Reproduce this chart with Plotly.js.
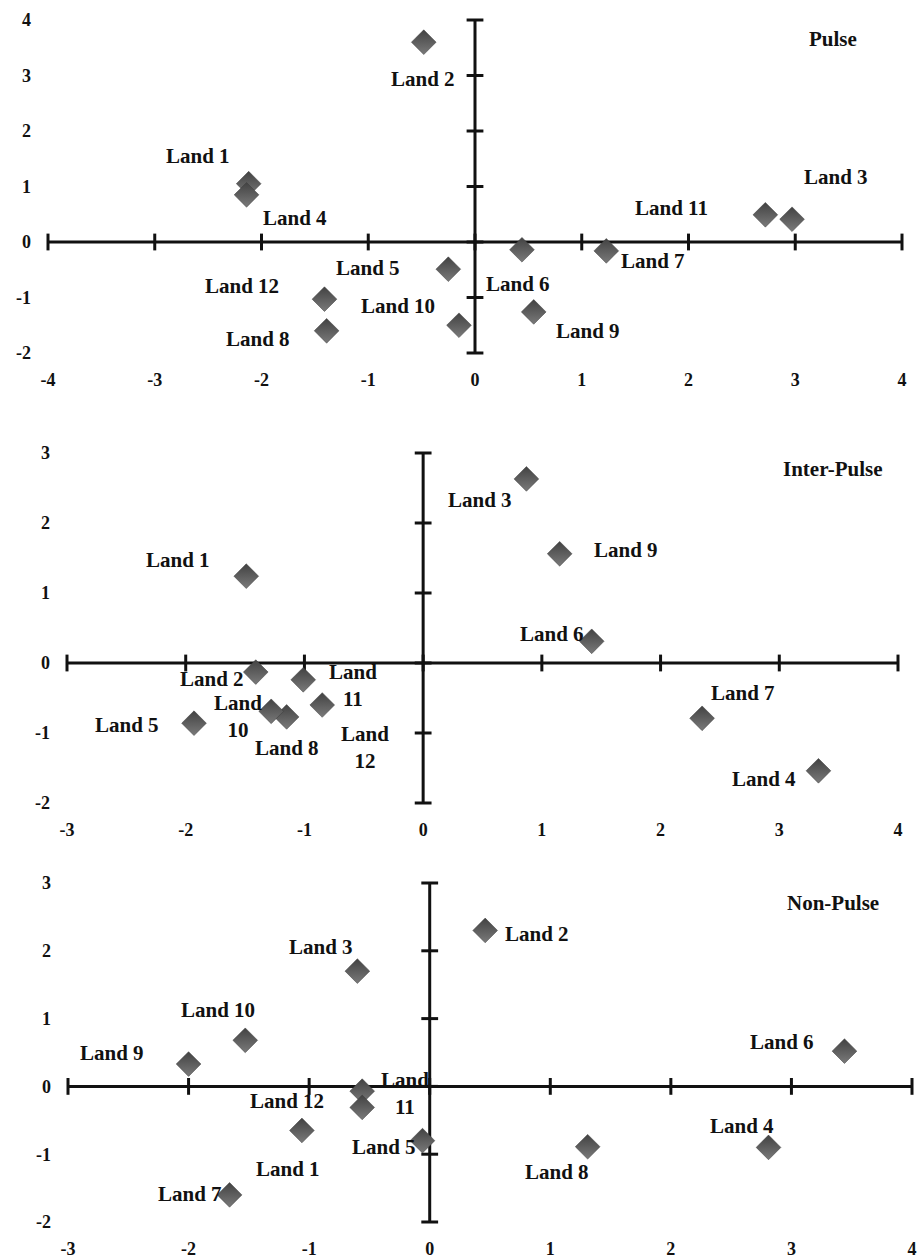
<!DOCTYPE html>
<html>
<head>
<meta charset="utf-8">
<script src="https://cdn.plot.ly/plotly-3.0.1.min.js"></script>
<style>html,body{margin:0;padding:0;background:#fff;}#chart{width:921px;height:1258px;}</style>
</head>
<body>
<div id="chart"></div>
<script>
// ---------- DATA ----------
const lands = ['Land 1','Land 2','Land 3','Land 4','Land 5','Land 6','Land 7','Land 8','Land 9','Land 10','Land 11','Land 12'];

const pulseX = [-2.12, -0.48, 2.97, -2.14, -0.25, 0.44, 1.23, -1.39, 0.55, -0.15, 2.72, -1.41];
const pulseY = [ 1.05,  3.60, 0.41,  0.85, -0.49, -0.14, -0.16, -1.60, -1.26, -1.50, 0.49, -1.03];

const interX = [-1.49, -1.41, 0.87, 3.33, -1.93, 1.42, 2.35, -1.15, 1.15, -1.28, -1.01, -0.85];
const interY = [ 1.24, -0.13, 2.63, -1.54, -0.86, 0.31, -0.79, -0.77, 1.56, -0.69, -0.24, -0.60];

const nonX = [-1.06, 0.46, -0.60, 2.81, -0.06, 3.44, -1.66, 1.31, -2.00, -1.53, -0.56, -0.56];
const nonY = [-0.65, 2.30,  1.70, -0.90, -0.80, 0.52, -1.60, -0.89, 0.33, 0.68, -0.07, -0.31];

const pulseXTicks = [-4,-3,-2,-1,0,1,2,3,4];
const pulseYTicks = [-2,-1,0,1,2,3,4];
const interXTicks = [-3,-2,-1,0,1,2,3,4];
const interYTicks = [-2,-1,0,1,2,3];
const nonXTicks = [-3,-2,-1,0,1,2,3,4];
const nonYTicks = [-2,-1,0,1,2,3];

const panelTitles = ['Pulse','Inter-Pulse','Non-Pulse'];

// ---------- STYLE / PLACEMENT ----------
const FONT = 'Liberation Serif, Times New Roman, serif';
const INK = '#111111';
// label offsets in pixels [dx, dyUp] per land, per panel
const labelOffsets = [
  [[-51,28],[-1,-37],[44,42],[48,-23],[-80,1],[-4,-34],[47,-10],[-69,-8],[54,-19],[-61,19],[-94,7],[-82,13]],
  [[-68,16],[-44,-7],[-46,-21],[-54,-8],[-67,-2],[-40,7],[41,25],[0,-31],[66,4],[-33,-5],[50,-6],[43,-43]],
  [[-14,-39],[52,-4],[-36,24],[-27,21],[-38,-6],[-62,9],[-40,1],[-31,-25],[-77,11],[-27,30],[43,-2],[-75,6]]
];
const wrapped = [[], [9,10,11], [10]];
const panels = [
  {x: pulseX, y: pulseY, xt: pulseXTicks, yt: pulseYTicks, xd:[48/921, 902/921], yd:[1-353/1258, 1-20/1258], title:[833, 39]},
  {x: interX, y: interY, xt: interXTicks, yt: interYTicks, xd:[67/921, 898/921], yd:[1-803/1258, 1-453/1258], title:[833, 469]},
  {x: nonX, y: nonY, xt: nonXTicks, yt: nonYTicks, xd:[68/921, 912/921], yd:[1-1222/1258, 1-883/1258], title:[833, 903]}
];

const traces = [];
const annotations = [];
const layout = {
  width: 921, height: 1258,
  margin: {l:0, r:0, t:0, b:0},
  paper_bgcolor: '#ffffff', plot_bgcolor: 'rgba(0,0,0,0)',
  showlegend: false,
  font: {family: FONT, color: INK, weight: 'bold'},
  annotations: annotations
};

panels.forEach((p, i) => {
  const sfx = i === 0 ? '' : String(i + 1);
  const xa = 'x' + sfx, ya = 'y' + sfx;
  // axis line with crossing ticks (x axis at y=0)
  traces.push({
    type: 'scatter', mode: 'lines+markers', xaxis: xa, yaxis: ya,
    x: p.xt, y: p.xt.map(() => 0), cliponaxis: false, hoverinfo: 'skip',
    line: {color: INK, width: 3},
    marker: {symbol: 'line-ns', size: 12, line: {width: 3, color: INK}}
  });
  traces.push({
    type: 'scatter', mode: 'lines+markers', xaxis: xa, yaxis: ya,
    x: p.yt.map(() => 0), y: p.yt, cliponaxis: false, hoverinfo: 'skip',
    line: {color: INK, width: 3},
    marker: {symbol: 'line-ew', size: 12, line: {width: 3, color: INK}}
  });
  traces.push({
    type: 'scatter', mode: 'markers', xaxis: xa, yaxis: ya,
    x: p.x, y: p.y, text: lands, cliponaxis: false,
    marker: {symbol: 'diamond', size: 19, color: '#424242',
             gradient: {type: 'vertical', color: '#7a7a7a'},
             line: {width: 0.5, color: '#3a3a3a'}}
  });
  const axBase = {showgrid: false, zeroline: false, showline: false, ticks: '',
                  tickfont: {family: FONT, size: 18, color: INK, weight: 'bold'}, automargin: false, fixedrange: true};
  layout['xaxis' + sfx] = Object.assign({}, axBase, {
    anchor: ya, domain: p.xd, range: [p.xt[0], p.xt[p.xt.length - 1]],
    tickmode: 'array', tickvals: p.xt, ticktext: p.xt.map(String), ticklabelstandoff: 14
  });
  layout['yaxis' + sfx] = Object.assign({}, axBase, {
    anchor: xa, domain: p.yd, range: [p.yt[0], p.yt[p.yt.length - 1]],
    tickmode: 'array', tickvals: p.yt, ticktext: p.yt.map(String), ticklabelstandoff: 16
  });
  lands.forEach((name, k) => {
    const txt = wrapped[i].includes(k) ? name.replace(' ', '<br>') : name;
    annotations.push({
      xref: xa, yref: ya, x: p.x[k], y: p.y[k], text: txt, showarrow: false,
      xshift: labelOffsets[i][k][0], yshift: labelOffsets[i][k][1],
      font: {family: FONT, size: 21, color: INK, weight: 'bold'}
    });
  });
  annotations.push({
    xref: 'paper', yref: 'paper', x: p.title[0] / 921, y: 1 - p.title[1] / 1258,
    text: panelTitles[i], showarrow: false, xanchor: 'center', yanchor: 'middle',
    font: {family: FONT, size: 21, color: INK, weight: 'bold'}
  });
});

Plotly.newPlot('chart', traces, layout, {displayModeBar: false, staticPlot: true});
</script>
</body>
</html>
